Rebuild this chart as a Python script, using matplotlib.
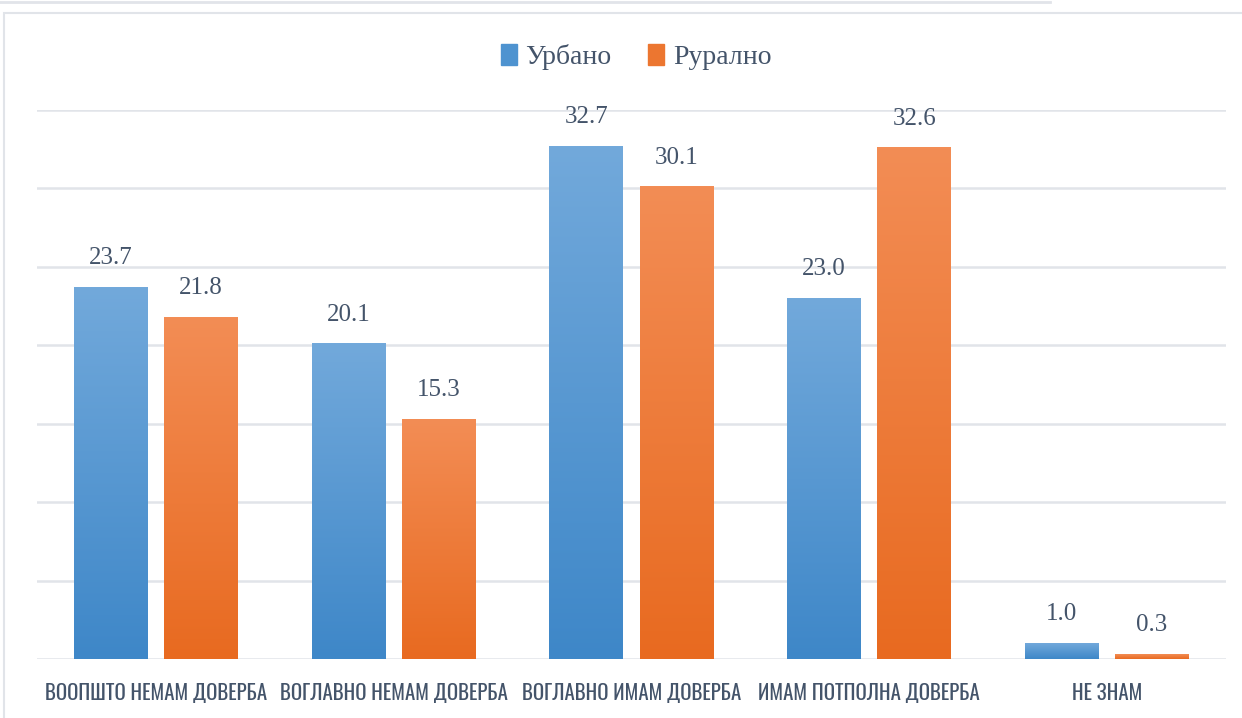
import numpy as np
import matplotlib
matplotlib.use('Agg')
import matplotlib.pyplot as plt
from matplotlib.patches import Rectangle
from matplotlib.lines import Line2D
from matplotlib.colors import LinearSegmentedColormap

categories = ['ВООПШТО НЕМАМ ДОВЕРБА', 'ВОГЛАВНО НЕМАМ ДОВЕРБА', 'ВОГЛАВНО ИМАМ ДОВЕРБА',
              'ИМАМ ПОТПОЛНА ДОВЕРБА', 'НЕ ЗНАМ']
urban = [23.7, 20.1, 32.7, 23.0, 1.0]
rural = [21.8, 15.3, 30.1, 32.6, 0.3]
series_names = ['Урбано', 'Рурално']

text_col = '#44546A'
grid_col = '#E1E4E9'
serif = ['Liberation Serif', 'DejaVu Serif']
narrow = ['Oswald', 'DejaVu Sans']
# gradient colours (top, bottom)
blue_grad = ('#72A9DB', '#3E87C8')
orange_grad = ('#F38D55', '#E86A20')

fig = plt.figure(figsize=(12.42, 7.18), dpi=100)
ax = fig.add_axes([0.0298, 0.0822, 0.957, 0.7646])

# outer frame lines
fig.add_artist(Line2D([0, 1050 / 1242], [1 - 1.5 / 718] * 2, color=grid_col, lw=2,
                      transform=fig.transFigure))
fig.add_artist(Rectangle((4 / 1242, -0.05), 1.1, 1.05 - 13 / 718, fill=False,
                         edgecolor=grid_col, lw=1.5, transform=fig.transFigure))

x = np.arange(len(categories))
w = 0.31
off = 0.19


def grad_bars(xs, vals, colors):
    cmap = LinearSegmentedColormap.from_list('g', [colors[1], colors[0]])
    grad = np.linspace(0, 1, 256).reshape(-1, 1)
    for xi, v in zip(xs, vals):
        ax.imshow(grad, extent=(xi - w / 2, xi + w / 2, 0, v), origin='lower',
                  cmap=cmap, aspect='auto', zorder=3)
        ax.annotate(f'{v:.1f}', (xi, v), xytext=(0, 13), textcoords='offset points',
                    ha='center', va='bottom', fontsize=18, color=text_col,
                    family=serif)


grad_bars(x - off, urban, blue_grad)
grad_bars(x + off, rural, orange_grad)
ax.set_xlim(-0.5, len(categories) - 0.5)
ax.set_ylim(0, 35)

for yv in range(0, 36, 5):
    ax.axhline(yv, color=grid_col, lw=1.8, zorder=1)

for s in ax.spines.values():
    s.set_visible(False)
ax.set_yticks([])
ax.set_xticks(x)
ax.set_xticklabels(categories, fontsize=15, color=text_col, family=narrow)
ax.tick_params(axis='x', length=0, pad=17)

handles = [Rectangle((0, 0), 1, 1, color='#4E93D0'),
           Rectangle((0, 0), 1, 1, color='#EC7630')]
leg = fig.legend(handles, series_names, loc='center', bbox_to_anchor=(0.512, 0.921),
                 ncol=2, frameon=False, handlelength=0.6, handleheight=0.8,
                 handletextpad=0.3, columnspacing=1.3,
                 prop={'family': serif, 'size': 20})
for t in leg.get_texts():
    t.set_color(text_col)

fig.savefig('out.png', dpi=100)
